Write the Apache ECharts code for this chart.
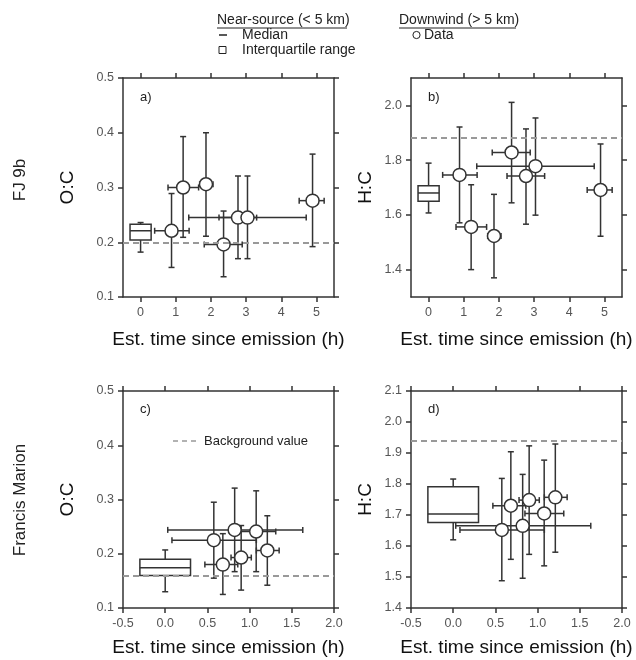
<!DOCTYPE html>
<html>
<head>
<meta charset="utf-8">
<script src="https://cdn.jsdelivr.net/npm/echarts@6/dist/echarts.min.js"></script>
<style>
html, body { margin: 0; background: #fff; }
#chart { width: 636px; height: 660px; }
</style>
</head>
<body>
<div id="chart"></div>
<script>
// FJ 9b (panels a, b) - downwind data
var fjTime   = [0.88, 1.21, 1.86, 2.36, 2.77, 3.04, 4.89];
var fjTimeLo = [0.40, 0.78, 1.68, 1.81, 2.23, 1.37, 4.51];
var fjTimeHi = [1.38, 1.65, 2.06, 2.89, 3.30, 4.71, 5.22];
var fjOC   = [0.221, 0.300, 0.306, 0.196, 0.245, 0.245, 0.276];
var fjOCLo = [0.154, 0.209, 0.211, 0.137, 0.170, 0.170, 0.192];
var fjOCHi = [0.289, 0.393, 0.400, 0.257, 0.321, 0.321, 0.361];
var fjHC   = [1.746, 1.556, 1.523, 1.828, 1.742, 1.778, 1.691];
var fjHCLo = [1.571, 1.400, 1.370, 1.644, 1.566, 1.599, 1.522];
var fjHCHi = [1.921, 1.710, 1.675, 2.011, 1.914, 1.954, 1.859];

// Francis Marion (panels c, d) - downwind data
var fmTime   = [0.576, 0.683, 0.823, 0.90, 1.078, 1.21];
var fmTimeLo = [0.08, 0.47, 0.03, 0.78, 0.85, 1.08];
var fmTimeHi = [1.08, 0.86, 1.63, 1.02, 1.31, 1.35];
var fmOC   = [0.225, 0.180, 0.244, 0.193, 0.241, 0.206];
var fmOCLo = [0.155, 0.125, 0.167, 0.133, 0.167, 0.142];
var fmOCHi = [0.295, 0.237, 0.321, 0.252, 0.316, 0.270];
var fmHC   = [1.652, 1.730, 1.665, 1.748, 1.705, 1.757];
var fmHCLo = [1.488, 1.557, 1.496, 1.573, 1.536, 1.580];
var fmHCHi = [1.818, 1.904, 1.831, 1.923, 1.877, 1.929];

// near-source boxes at t = 0: [q1, median, q3, whisker low, whisker high]
var fjOCBox = [0.204, 0.221, 0.233, 0.182, 0.236];
var fjHCBox = [1.650, 1.680, 1.706, 1.607, 1.789];
var fmOCBox = [0.160, 0.174, 0.190, 0.130, 0.207];
var fmHCBox = [1.676, 1.703, 1.791, 1.620, 1.816];

// background values (dashed lines)
var fjOCBg = 0.199, fjHCBg = 1.877, fmOCBg = 0.159, fmHCBg = 1.935;

// tick labels
var fjXTicks = [0, 1, 2, 3, 4, 5];
var fmXTicks = [-0.5, 0, 0.5, 1, 1.5, 2];
var ocTicks = [0.1, 0.2, 0.3, 0.4, 0.5];
var fjHCTicks = [1.4, 1.6, 1.8, 2.0];
var fmHCTicks = [1.4, 1.5, 1.6, 1.7, 1.8, 1.9, 2.0, 2.1];

var font = 'Liberation Sans, Arial, sans-serif';
var ink = '#333';

function errData(t, tlo, thi, v, vlo, vhi) {
  return t.map(function (x, i) { return [x, v[i], tlo[i], thi[i], vlo[i], vhi[i]]; });
}

function renderErr(params, api) {
  var cap = 3;
  var l = api.coord([api.value(2), api.value(1)]);
  var r = api.coord([api.value(3), api.value(1)]);
  var b = api.coord([api.value(0), api.value(4)]);
  var t = api.coord([api.value(0), api.value(5)]);
  var st = { stroke: ink, lineWidth: 1.5 };
  return {
    type: 'group',
    children: [
      { type: 'line', shape: { x1: l[0], y1: l[1], x2: r[0], y2: r[1] }, style: st },
      { type: 'line', shape: { x1: l[0], y1: l[1] - cap, x2: l[0], y2: l[1] + cap }, style: st },
      { type: 'line', shape: { x1: r[0], y1: r[1] - cap, x2: r[0], y2: r[1] + cap }, style: st },
      { type: 'line', shape: { x1: b[0], y1: b[1], x2: t[0], y2: t[1] }, style: st },
      { type: 'line', shape: { x1: b[0] - cap, y1: b[1], x2: b[0] + cap, y2: b[1] }, style: st },
      { type: 'line', shape: { x1: t[0] - cap, y1: t[1], x2: t[0] + cap, y2: t[1] }, style: st }
    ]
  };
}

function renderBox(params, api) {
  var cap = 3;
  var x = api.value(0), hw = 0.3;
  var q1 = api.coord([x - hw, api.value(1)]);
  var q3 = api.coord([x + hw, api.value(3)]);
  var ml = api.coord([x - hw, api.value(2)]);
  var mr = api.coord([x + hw, api.value(2)]);
  var top = api.coord([x, api.value(3)]);
  var bot = api.coord([x, api.value(1)]);
  var wl = api.coord([x, api.value(4)]);
  var wh = api.coord([x, api.value(5)]);
  var st = { stroke: ink, lineWidth: 1.5 };
  return {
    type: 'group',
    children: [
      { type: 'line', shape: { x1: top[0], y1: top[1], x2: wh[0], y2: wh[1] }, style: st },
      { type: 'line', shape: { x1: wh[0] - cap, y1: wh[1], x2: wh[0] + cap, y2: wh[1] }, style: st },
      { type: 'line', shape: { x1: bot[0], y1: bot[1], x2: wl[0], y2: wl[1] }, style: st },
      { type: 'line', shape: { x1: wl[0] - cap, y1: wl[1], x2: wl[0] + cap, y2: wl[1] }, style: st },
      { type: 'rect', shape: { x: q1[0], y: q3[1], width: q3[0] - q1[0], height: q1[1] - q3[1] },
        style: { fill: '#fff', stroke: ink, lineWidth: 1.5 } },
      { type: 'line', shape: { x1: ml[0], y1: ml[1], x2: mr[0], y2: mr[1] }, style: st }
    ]
  };
}

var grids = [
  { left: 123, top: 78, width: 211, height: 219 },
  { left: 411, top: 78, width: 211, height: 219 },
  { left: 123, top: 391, width: 211, height: 217 },
  { left: 411, top: 391, width: 211, height: 217 }
];

function axisBase(gi, pos, min, max, ticks, fmt, showLabel) {
  return {
    type: 'value', gridIndex: gi, position: pos, min: min, max: max,
    axisLine: { show: true, onZero: false, lineStyle: { color: ink, width: 1.5 } },
    axisTick: { show: true, length: 5, customValues: ticks, lineStyle: { color: ink, width: 1.5 } },
    axisLabel: { show: showLabel, customValues: ticks, formatter: fmt, color: '#555',
      fontSize: 12.5, fontFamily: font, margin: 9 },
    splitLine: { show: false }
  };
}

function fmt0(v) { return v.toFixed(0); }
function fmt1(v) { return v.toFixed(1); }

var xName = 'Est. time since emission (h)';
var xAxes = [], yAxes = [];
var xCfg = [[-0.5, 5.5, fjXTicks, fmt0, 33], [-0.5, 5.5, fjXTicks, fmt0, 33],
            [-0.5, 2.0, fmXTicks, fmt1, 30], [-0.5, 2.0, fmXTicks, fmt1, 30]];
var yCfg = [[0.1, 0.5, ocTicks, 'O:C', 46], [1.3, 2.1, fjHCTicks, 'H:C', 36],
            [0.1, 0.5, ocTicks, 'O:C', 46], [1.4, 2.1, fmHCTicks, 'H:C', 36]];
for (var i = 0; i < 4; i++) {
  var xa = axisBase(i, 'bottom', xCfg[i][0], xCfg[i][1], xCfg[i][2], xCfg[i][3], true);
  xa.name = xName; xa.nameLocation = 'middle'; xa.nameGap = xCfg[i][4];
  xa.nameTextStyle = { fontSize: 19, color: '#111', fontFamily: font };
  xAxes.push(xa);
  var ya = axisBase(i, 'left', yCfg[i][0], yCfg[i][1], yCfg[i][2], fmt1, true);
  ya.name = yCfg[i][3]; ya.nameLocation = 'middle'; ya.nameRotate = 90; ya.nameGap = yCfg[i][4];
  ya.nameTextStyle = { fontSize: 19, color: '#111', fontFamily: font };
  yAxes.push(ya);
}
// mirrored top / right axes (ticks only)
for (var j = 0; j < 4; j++) {
  xAxes.push(axisBase(j, 'top', xCfg[j][0], xCfg[j][1], xCfg[j][2], xCfg[j][3], false));
  yAxes.push(axisBase(j, 'right', yCfg[j][0], yCfg[j][1], yCfg[j][2], fmt1, false));
}

var panels = [
  { err: errData(fjTime, fjTimeLo, fjTimeHi, fjOC, fjOCLo, fjOCHi), box: fjOCBox, bg: fjOCBg },
  { err: errData(fjTime, fjTimeLo, fjTimeHi, fjHC, fjHCLo, fjHCHi), box: fjHCBox, bg: fjHCBg },
  { err: errData(fmTime, fmTimeLo, fmTimeHi, fmOC, fmOCLo, fmOCHi), box: fmOCBox, bg: fmOCBg },
  { err: errData(fmTime, fmTimeLo, fmTimeHi, fmHC, fmHCLo, fmHCHi), box: fmHCBox, bg: fmHCBg }
];

var series = [];
panels.forEach(function (p, k) {
  series.push({
    type: 'custom', xAxisIndex: k, yAxisIndex: k, z: 2, silent: true,
    renderItem: renderBox, encode: { x: 0, y: 2 },
    data: [[0].concat(p.box)],
    markLine: {
      silent: true, symbol: 'none', label: { show: false }, animation: false,
      lineStyle: { type: [6, 4], color: '#999', width: 2 },
      data: [{ yAxis: p.bg }]
    }
  });
  series.push({
    type: 'custom', xAxisIndex: k, yAxisIndex: k, z: 3, silent: true,
    renderItem: renderErr, encode: { x: 0, y: 1 },
    data: p.err
  });
  series.push({
    type: 'scatter', xAxisIndex: k, yAxisIndex: k, z: 4, silent: true,
    symbol: 'circle', symbolSize: 13,
    itemStyle: { color: '#fff', borderColor: ink, borderWidth: 1.5, opacity: 1 },
    data: p.err.map(function (d) { return [d[0], d[1]]; })
  });
});

function txt(x, y, s, size, extra) {
  var o = { type: 'text', x: x, y: y, silent: true,
    style: { text: s, fontSize: size, fontFamily: font, fill: '#222', textVerticalAlign: 'middle' } };
  if (extra) for (var key in extra) o.style[key] = extra[key];
  return o;
}

var graphics = [
  // top legend
  txt(217, 20, 'Near-source (< 5 km)', 14),
  { type: 'line', shape: { x1: 217, y1: 28, x2: 347, y2: 28 }, style: { stroke: '#222', lineWidth: 1 } },
  { type: 'line', shape: { x1: 219, y1: 35, x2: 227, y2: 35 }, style: { stroke: '#222', lineWidth: 1.5 } },
  txt(242, 35, 'Median', 14),
  { type: 'rect', shape: { x: 219, y: 46.5, width: 7, height: 7 }, style: { fill: '#fff', stroke: '#222', lineWidth: 1 } },
  txt(242, 50, 'Interquartile range', 14),
  txt(399, 20, 'Downwind (> 5 km)', 14),
  { type: 'line', shape: { x1: 399, y1: 28, x2: 516, y2: 28 }, style: { stroke: '#222', lineWidth: 1 } },
  { type: 'circle', shape: { cx: 416.5, cy: 35, r: 3.6 }, style: { fill: '#fff', stroke: '#222', lineWidth: 1 } },
  txt(424, 35, 'Data', 14),
  // panel tags
  txt(140, 97.5, 'a)', 13),
  txt(428, 97.5, 'b)', 13),
  txt(140, 409, 'c)', 13),
  txt(428, 409, 'd)', 13),
  // background legend in c
  { type: 'line', shape: { x1: 173, y1: 441, x2: 199, y2: 441 }, style: { stroke: '#999', lineWidth: 1.5, lineDash: [5, 4] } },
  txt(204, 441, 'Background value', 13),
  // row labels
  txt(20, 180, 'FJ 9b', 17, { textAlign: 'center' }),
  txt(20, 500, 'Francis Marion', 17, { textAlign: 'center' })
];
graphics[graphics.length - 2].rotation = Math.PI / 2;
graphics[graphics.length - 1].rotation = Math.PI / 2;

var myChart = echarts.init(document.getElementById('chart'));
myChart.setOption({
  animation: false,
  backgroundColor: '#fff',
  grid: grids,
  xAxis: xAxes,
  yAxis: yAxes,
  series: series,
  graphic: { elements: graphics }
});
</script>
</body>
</html>
